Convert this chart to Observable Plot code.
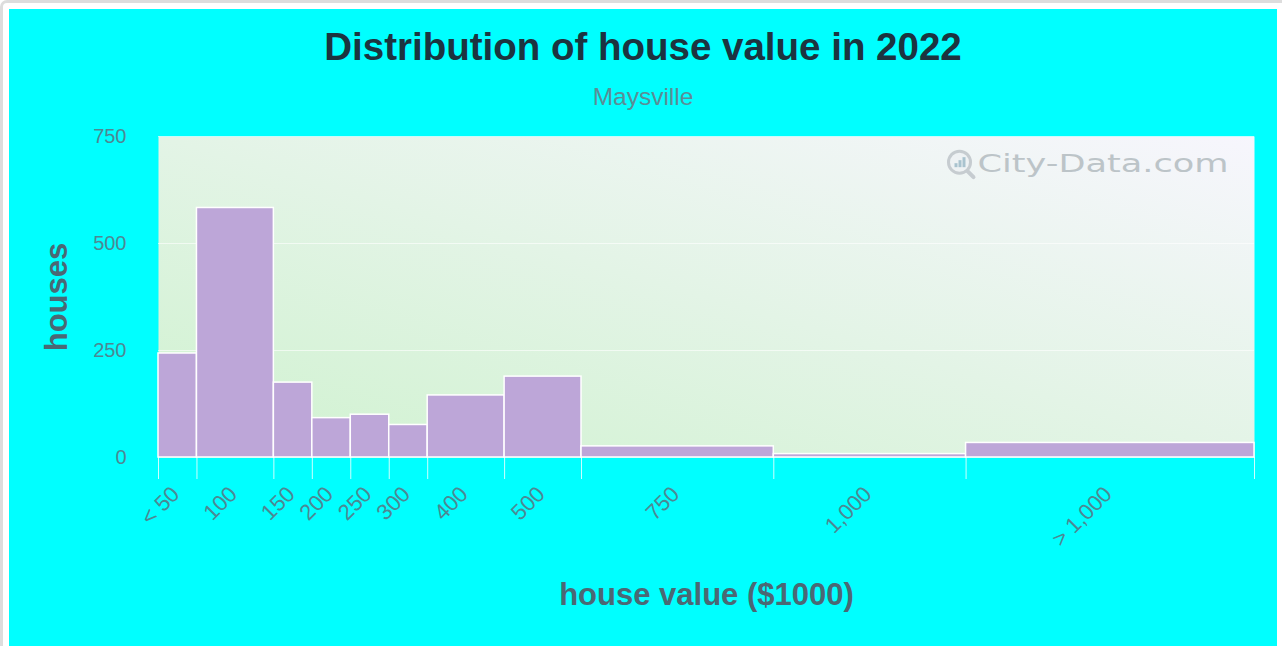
<!DOCTYPE html>
<html>
<head>
<meta charset="utf-8">
<script src="https://cdn.jsdelivr.net/npm/d3@7"></script>
<script src="https://cdn.jsdelivr.net/npm/@observablehq/plot@0.6"></script>
<style>
  html, body { margin: 0; padding: 0; background: #ffffff; width: 1282px; height: 646px; overflow: hidden; font-family: "Liberation Sans", Arial, sans-serif; }
  #outer { position: absolute; left: 0; top: 0; width: 1292px; height: 660px; box-sizing: border-box; border: 3px solid #dddddd; border-radius: 7px; background: #ffffff; }
  #panel { position: absolute; left: 9px; top: 9px; width: 1268px; height: 637px; background: #00ffff; overflow: hidden; }
  #title { position: absolute; left: 0; top: 19px; width: 100%; text-align: center; font-weight: bold; font-size: 38.5px; line-height: 38px; color: #1c3440; }
  #subtitle { position: absolute; left: 0; top: 76px; width: 100%; text-align: center; font-size: 24.5px; line-height: 24px; color: #5b8d96; }
  #chart { position: absolute; left: 0; top: 108px; }
</style>
</head>
<body>
<div id="outer"></div>
<div id="panel">
  <div id="title">Distribution of house value in 2022</div>
  <div id="subtitle">Maysville</div>
  <div id="chart"></div>
</div>
<script>
// ---- data ----
const labels   = ["< 50", "100", "150", "200", "250", "300", "400", "500", "750", "1,000", "> 1,000"];
const binStart = [0, 1, 3, 4, 5, 6, 7, 9, 11, 16, 21];
const binEnd   = [1, 3, 4, 5, 6, 7, 9, 11, 16, 21, 28.5];
const houses   = [243, 583, 175, 92, 100, 76, 145, 189, 26, 8, 34];
const yTicks   = [0, 250, 500, 750];
const xTitle   = "house value ($1000)";
const yTitle   = "houses";
const watermark = "City-Data.com";

const data = labels.map((label, i) => ({label, x1: binStart[i], x2: binEnd[i], houses: houses[i]}));
const centers = data.map(d => (d.x1 + d.x2) / 2);
const labelAt = new Map(centers.map((c, i) => [c, labels[i]]));
const edges = [...binStart, binEnd[binEnd.length - 1]];

const tickColor = "#4d8893";
const titleColor = "#4b6874";

const chart = Plot.plot({
  width: 1268,
  height: 529,
  marginTop: 19,
  marginBottom: 189,
  marginLeft: 149,
  marginRight: 23,
  style: {background: "transparent", fontFamily: "'Liberation Sans', Arial, sans-serif", overflow: "visible"},
  x: {domain: [0, binEnd[binEnd.length - 1]], axis: null},
  y: {domain: [0, 750], axis: null},
  marks: [
    Plot.frame({fill: "url(#plotbg)", stroke: null}),
    Plot.ruleY(yTicks.slice(1), {stroke: "#ffffff", strokeOpacity: 0.6}),
    Plot.rectY(data, {x1: "x1", x2: "x2", y: "houses", fill: "#bda6d8", stroke: "#ffffff", strokeWidth: 1.5}),
    Plot.axisY(yTicks, {anchor: "left", tickSize: 0, tickPadding: 32, fontSize: 20, fill: tickColor, label: null}),
    Plot.axisX(edges, {anchor: "bottom", tickSize: 22, stroke: "#ffffff", strokeOpacity: 0.8, tickFormat: () => "", label: null}),
    Plot.axisX(centers, {anchor: "bottom", tickSize: 0, tickPadding: 30, tickRotate: -45, dx: -2, dy: 3, tickFormat: d => labelAt.get(d), fontSize: 22, fill: tickColor, label: null}),
    Plot.text([yTitle], {frameAnchor: "left", rotate: -90, dx: -101, textAnchor: "middle", lineAnchor: "middle", fontSize: 31, fontWeight: "bold", fill: titleColor}),
    Plot.text([xTitle], {frameAnchor: "bottom", dy: 138, textAnchor: "middle", lineAnchor: "middle", fontSize: 31, fontWeight: "bold", fill: titleColor}),
    Plot.text([watermark], {frameAnchor: "top-right", dx: -26, dy: 28, textAnchor: "end", lineAnchor: "middle", fontSize: 24, fontFamily: "DejaVu Sans", fill: "#bcc4c8"})
  ]
});

const svg = d3.select(chart);
const grad = svg.insert("defs", ":first-child").append("linearGradient")
  .attr("id", "plotbg").attr("x1", "0").attr("y1", "1").attr("x2", "1").attr("y2", "0");
grad.append("stop").attr("offset", "0").attr("stop-color", "#cff2cf");
grad.append("stop").attr("offset", "1").attr("stop-color", "#f7f6fd");

document.getElementById("chart").appendChild(chart);

// stretch the watermark to the reference width and add its magnifier logo
const wm = svg.selectAll("text").filter(function () { return this.textContent === watermark; });
wm.attr("textLength", 251).attr("lengthAdjust", "spacingAndGlyphs");
const node = wm.node();
if (node) {
  const bb = node.getBBox();
  const ctm = node.getCTM();
  const p = svg.node().createSVGPoint();
  p.x = bb.x; p.y = bb.y + bb.height / 2;
  const q = p.matrixTransform(ctm);
  const logo = svg.append("g").attr("transform", `translate(${q.x - 18},${q.y - 2})`);
  logo.append("line").attr("x1", 7).attr("y1", 8).attr("x2", 14).attr("y2", 15)
    .attr("stroke", "#c6ccd0").attr("stroke-width", 4).attr("stroke-linecap", "round");
  logo.append("circle").attr("r", 11).attr("fill", "#eef2f4").attr("stroke", "#c6ccd0").attr("stroke-width", 3);
  [[-5, 3, 4], [-1, 0, 7], [3, -3, 10]].forEach(([x, y0, h]) =>
    logo.append("rect").attr("x", x).attr("y", 5 - h).attr("width", 3).attr("height", h).attr("fill", "#a9c3cf"));
}
</script>
</body>
</html>
